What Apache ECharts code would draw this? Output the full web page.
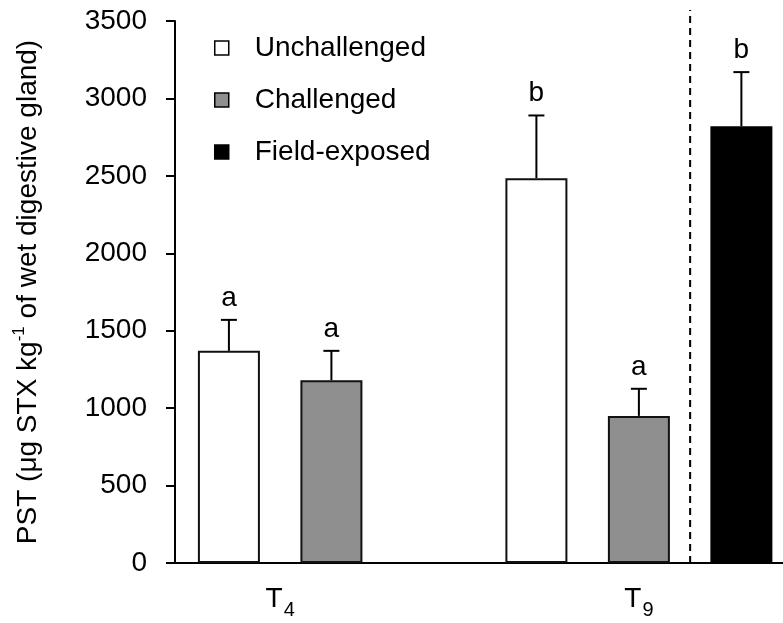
<!DOCTYPE html>
<html>
<head>
<meta charset="utf-8">
<script src="https://cdn.jsdelivr.net/npm/echarts@6/dist/echarts.min.js"></script>
<style>html,body{margin:0;padding:0;background:#fff;}#c{width:783px;height:623px;}</style>
</head>
<body>
<div id="c"></div>
<script>
// ---- data ----
const groupLabels = ['4', '9'];            // T subscripts
const groupLabelSlot = [1.5, 5];
const unchallengedSlot = [1, 4];
const unchallenged = [1370, 2485];
const unchallengedErr = [200, 405];
const unchallengedSig = ['a', 'b'];
const challengedSlot = [2, 5];
const challenged = [1180, 950];
const challengedErr = [190, 175];
const challengedSig = ['a', 'a'];
const fieldSlot = [6];
const fieldExposed = [2820];
const fieldExposedErr = [350];
const fieldExposedSig = ['b'];
const separatorSlot = 5.5;
const yTicks = [0, 500, 1000, 1500, 2000, 2500, 3000, 3500];

const FONT = 'Liberation Sans, Arial, sans-serif';
const chart = echarts.init(document.getElementById('c'));

function pairs(xs, ys) { return xs.map((x, i) => [x, ys[i]]); }

function errSeries(name, xs, ys, es, sig) {
  return {
    type: 'custom',
    name: name + '-err',
    z: 5,
    silent: true,
    data: xs.map((x, i) => [x, ys[i], es[i]]),
    encode: { x: 0, y: 1 },
    renderItem: function (params, api) {
      const x = api.value(0), v = api.value(1), e = api.value(2);
      const b = api.coord([x, v]);
      const t = api.coord([x, v + e]);
      return {
        type: 'group',
        children: [
          { type: 'line', shape: { x1: b[0], y1: b[1], x2: t[0], y2: t[1] }, style: { stroke: '#000', lineWidth: 2 } },
          { type: 'line', shape: { x1: t[0] - 8, y1: t[1], x2: t[0] + 8, y2: t[1] }, style: { stroke: '#000', lineWidth: 2 } },
          { type: 'text', style: { text: sig[params.dataIndex], x: t[0], y: t[1] - 8, align: 'center', verticalAlign: 'bottom', fontSize: 28, fontFamily: FONT, fill: '#000' } }
        ]
      };
    }
  };
}

const barBase = { type: 'bar', barWidth: 62, barGap: '-100%', z: 3 };

chart.setOption({
  animation: false,
  backgroundColor: '#fff',
  grid: { left: 175, right: 0, top: 21, bottom: 60, containLabel: false },
  legend: {
    data: ['Unchallenged', 'Challenged', 'Field-exposed'],
    orient: 'vertical',
    left: 214, top: 34, padding: 0,
    itemWidth: 14, itemHeight: 14, itemGap: 24,
    icon: 'rect',
    itemStyle: { borderWidth: 1.5, borderColor: '#000' },
    textStyle: { fontSize: 28, fontFamily: FONT, color: '#000', padding: [0, 0, 0, 21] }
  },
  xAxis: {
    type: 'value',
    min: 0.474, max: 6.406,
    splitLine: { show: false },
    axisTick: { show: false },
    axisLine: { show: true, onZero: false, lineStyle: { color: '#000', width: 2 } },
    axisLabel: {
      customValues: groupLabelSlot,
      margin: 22,
      formatter: function (v) {
        const i = groupLabelSlot.indexOf(v);
        return i < 0 ? '' : '{t|T}{s|' + groupLabels[i] + '}';
      },
      rich: {
        t: { fontSize: 28, fontFamily: FONT, color: '#000', lineHeight: 28, verticalAlign: 'top' },
        s: { fontSize: 20, fontFamily: FONT, color: '#000', lineHeight: 20, verticalAlign: 'top', padding: [15, 0, 0, 1] }
      }
    }
  },
  yAxis: {
    type: 'value',
    min: 0, max: 3500, interval: 500,
    splitLine: { show: false },
    axisLine: { show: true, lineStyle: { color: '#000', width: 2 } },
    axisTick: { show: true, length: 9, lineStyle: { color: '#000', width: 2 } },
    axisLabel: { fontSize: 28, fontFamily: FONT, color: '#000', margin: 28,
      formatter: v => yTicks.indexOf(v) >= 0 ? String(v) : '' },
    name: 'PST (μg STX kg{sup|-1} of wet digestive gland)',
    nameLocation: 'middle',
    nameGap: 130,
    nameTextStyle: {
      fontSize: 28, fontFamily: FONT, color: '#000', lineHeight: 34,
      rich: { sup: { fontSize: 17, fontFamily: FONT, color: '#000', verticalAlign: 'top', lineHeight: 20 } }
    }
  },
  series: [
    Object.assign({}, barBase, { name: 'Unchallenged', data: pairs(unchallengedSlot, unchallenged),
      itemStyle: { color: '#ffffff', borderColor: '#111', borderWidth: 2 } }),
    Object.assign({}, barBase, { name: 'Challenged', data: pairs(challengedSlot, challenged),
      itemStyle: { color: '#8f8f8f', borderColor: '#111', borderWidth: 2 } }),
    Object.assign({}, barBase, { name: 'Field-exposed', data: pairs(fieldSlot, fieldExposed),
      itemStyle: { color: '#000000', borderColor: '#000', borderWidth: 2 } }),
    errSeries('Unchallenged', unchallengedSlot, unchallenged, unchallengedErr, unchallengedSig),
    errSeries('Challenged', challengedSlot, challenged, challengedErr, challengedSig),
    errSeries('Field-exposed', fieldSlot, fieldExposed, fieldExposedErr, fieldExposedSig),
    {
      type: 'custom', name: 'separator', silent: true, z: 2,
      data: [[separatorSlot, 0]],
      encode: { x: 0, y: 1 },
      clip: false,
      renderItem: function (params, api) {
        const b = api.coord([api.value(0), 0]);
        const top = params.coordSys.y - 11;
        return { type: 'line', shape: { x1: b[0], y1: b[1], x2: b[0], y2: top },
          style: { stroke: '#000', lineWidth: 2, lineDash: [7, 5] } };
      }
    }
  ]
});
</script>
</body>
</html>
